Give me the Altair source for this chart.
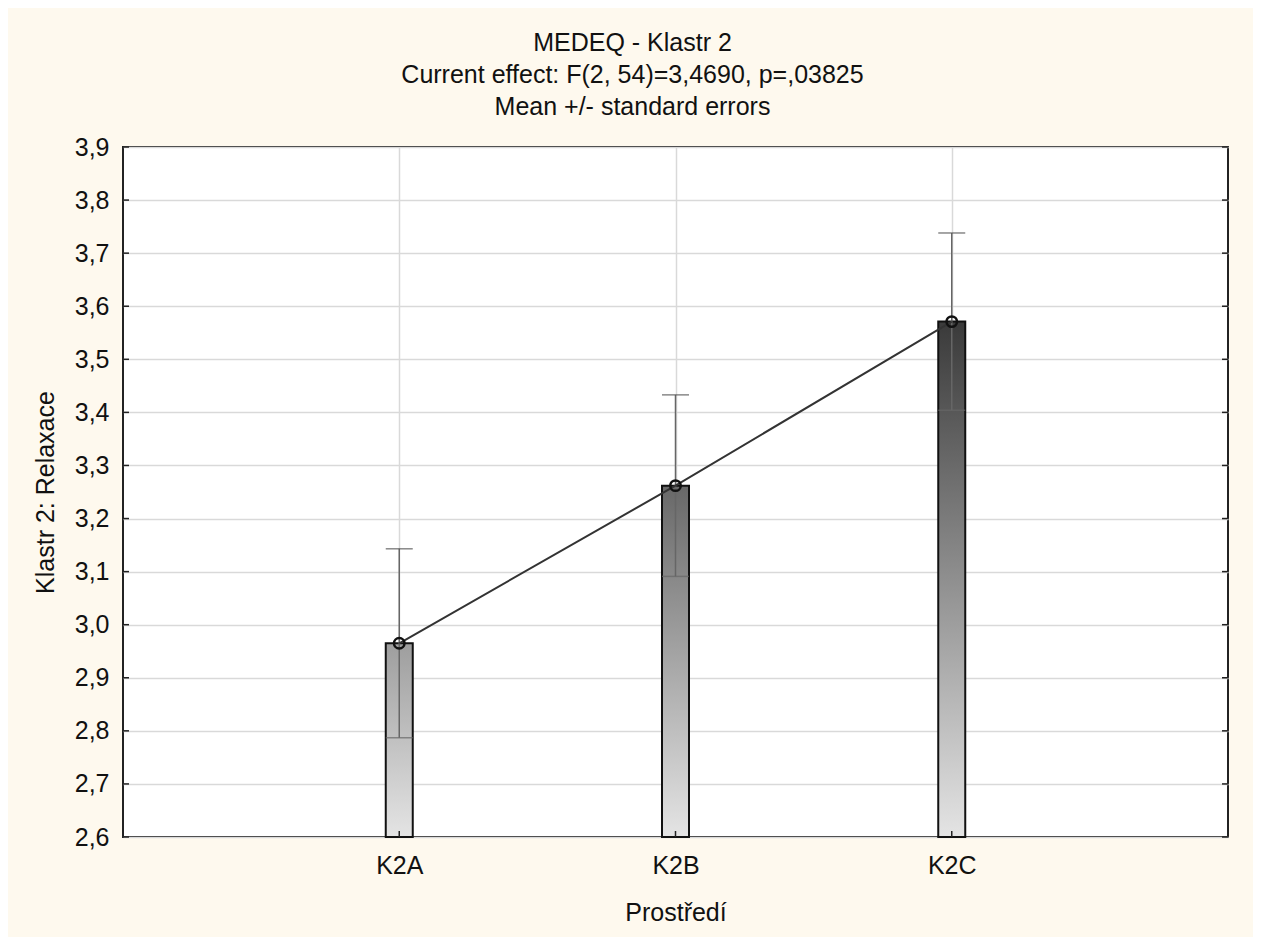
import altair as alt
import pandas as pd

categories = ["K2A", "K2B", "K2C"]
means = [2.965, 3.262, 3.571]
upper = [3.143, 3.433, 3.738]
lower = [2.787, 3.091, 3.404]
y_ticks = [2.6, 2.7, 2.8, 2.9, 3.0, 3.1, 3.2, 3.3, 3.4, 3.5, 3.6, 3.7, 3.8, 3.9]

title_lines = ["MEDEQ - Klastr 2",
               "Current effect: F(2, 54)=3,4690, p=,03825",
               "Mean +/- standard errors"]

df = pd.DataFrame({"cat": categories, "mean": means, "upper": upper, "lower": lower})
ticks_df = pd.DataFrame({"v": y_ticks})

FONT = "Liberation Sans"
FS = 25
W, H = 1105, 690
BAR_W = 27

xenc = alt.X("cat:N", sort=categories, title="Prostředí",
             scale=alt.Scale(type="point", padding=1),
             axis=alt.Axis(labelFontSize=FS, titleFontSize=FS, labelFont=FONT, titleFont=FONT,
                           labelColor="#111", titleColor="#111", labelPadding=16, titlePadding=22,
                           titleFontWeight="normal", ticks=False, domain=False, labelAngle=0,
                           grid=True, gridColor="#d9d9d9", gridWidth=1.5))
yscale = alt.Scale(domain=[2.6, 3.9], nice=False, zero=False)
yenc = alt.Y("mean:Q", scale=yscale, title="Klastr 2: Relaxace",
             axis=alt.Axis(values=y_ticks, labelExpr="replace(format(datum.value, '.1f'), '.', ',')",
                           labelFontSize=FS, titleFontSize=FS, labelFont=FONT, titleFont=FONT,
                           labelColor="#111", titleColor="#111", labelPadding=14, titlePadding=16,
                           titleFontWeight="normal", ticks=False, domain=False,
                           grid=True, gridColor="#d9d9d9", gridWidth=1.5))

base = alt.Chart(df)

tops = {"K2A": "#9e9e9e", "K2B": "#686868", "K2C": "#3a3a3a"}
bar_layers = []
for c in categories:
    grad = alt.Gradient(gradient="linear", x1=0, x2=0, y1=0, y2=1,
                        stops=[alt.GradientStop(color=tops[c], offset=0),
                               alt.GradientStop(color="#e4e4e4", offset=1)])
    bar_layers.append(
        base.transform_filter(alt.datum.cat == c)
        .mark_bar(size=BAR_W, color=grad, stroke="#111111", strokeWidth=2)
        .encode(x=xenc, y=yenc, y2=alt.datum(2.6))
    )

err_rule = base.mark_rule(color="#666666", strokeWidth=1.5).encode(
    x=alt.X("cat:N", sort=categories), y=alt.Y("lower:Q", scale=yscale), y2="upper:Q")
cap_up = base.mark_tick(color="#555555", size=BAR_W, thickness=1.5).encode(
    x=alt.X("cat:N", sort=categories), y=alt.Y("upper:Q", scale=yscale))
cap_lo = base.mark_tick(color="#666666", size=BAR_W, thickness=1.5).encode(
    x=alt.X("cat:N", sort=categories), y=alt.Y("lower:Q", scale=yscale))

line = base.mark_line(color="#333333", strokeWidth=2).encode(
    x=alt.X("cat:N", sort=categories), y=alt.Y("mean:Q", scale=yscale))
pts = base.mark_point(shape="circle", size=110, filled=False, color="#111111", strokeWidth=2.5, opacity=1).encode(
    x=alt.X("cat:N", sort=categories), y=alt.Y("mean:Q", scale=yscale))

bottom_ticks = base.mark_rule(color="#222", strokeWidth=1.5).encode(
    x=alt.X("cat:N", sort=categories), y=alt.value(H), y2=alt.value(H - 6))

tchart = alt.Chart(ticks_df)
left_ticks = tchart.mark_rule(color="#222", strokeWidth=1.5).encode(
    y=alt.Y("v:Q", scale=yscale), x=alt.value(0), x2=alt.value(6))
right_ticks = tchart.mark_rule(color="#222", strokeWidth=1.5).encode(
    y=alt.Y("v:Q", scale=yscale), x=alt.value(W), x2=alt.value(W - 6))

chart = alt.layer(*bar_layers, err_rule, cap_up, cap_lo, line, pts,
                  bottom_ticks, left_ticks, right_ticks).properties(
    width=W, height=H,
    autosize=alt.AutoSizeParams(type="none"),
    padding={"left": 115, "top": 139, "right": 25, "bottom": 100},
    background="#FEF9EE",
    title=alt.TitleParams(text=title_lines, fontSize=FS, font=FONT, fontWeight="normal",
                          color="#111", anchor="middle", lineHeight=32, offset=15, dx=-43),
).configure_view(stroke="#222222", strokeWidth=2, fill="white")

chart.save("out.html", embed_options={"renderer": "svg", "actions": False})
